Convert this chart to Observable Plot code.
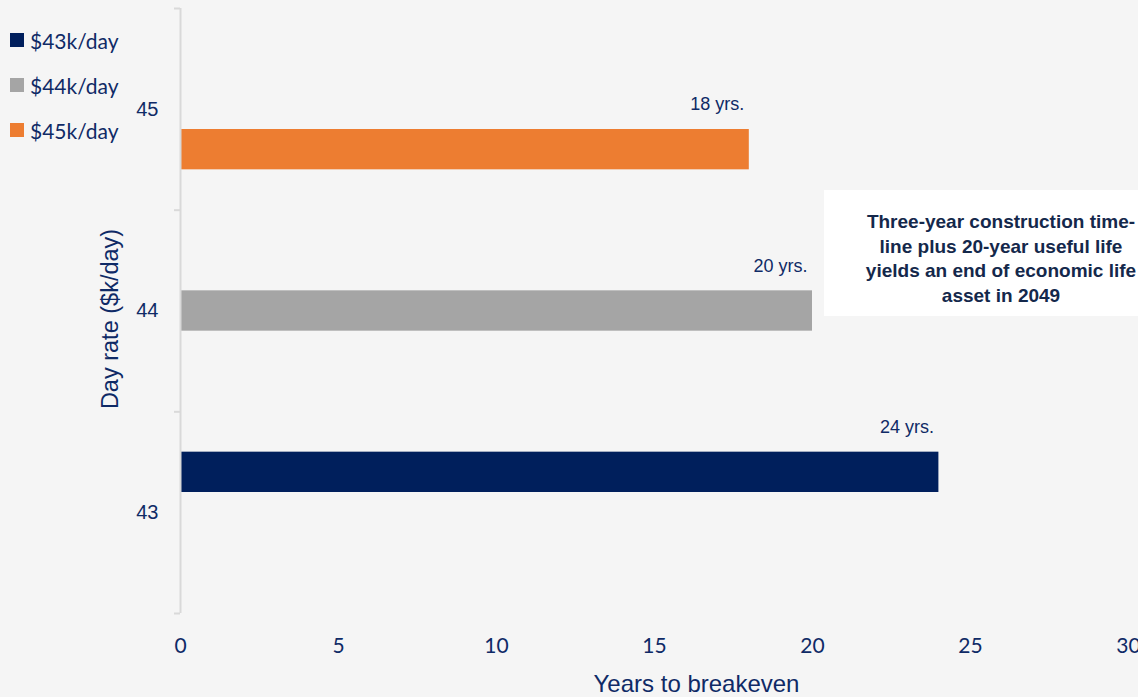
<!DOCTYPE html>
<html>
<head>
<meta charset="utf-8">
<script src="https://cdn.jsdelivr.net/npm/d3@7"></script>
<script src="https://cdn.jsdelivr.net/npm/@observablehq/plot@0.6"></script>
<style>
  html, body { margin: 0; padding: 0; background: #f5f5f5; overflow: hidden; }
  #wrap { position: relative; width: 1138px; height: 697px; overflow: hidden; }
  #legend { position: absolute; left: 10px; top: 26px; font-family: Lato, "Open Sans", sans-serif; font-size: 21px; color: #0f2a66; }
  .row { display: flex; align-items: center; height: 28px; margin-bottom: 17px; }
  .sw { width: 14px; height: 14px; margin-right: 6px; }
  #note { position: absolute; left: 824px; top: 190px; width: 354px; height: 126px; background: #ffffff;
          box-sizing: border-box; padding-top: 20px; text-align: center; white-space: nowrap;
          font-family: "Liberation Sans", Arial, sans-serif; font-weight: bold; font-size: 19px; line-height: 24.5px; color: #14284b; }
</style>
</head>
<body>
<div id="wrap">
  <div id="chart"></div>
  <div id="legend"></div>
  <div id="note"></div>
</div>
<script>
// ---- data ----
const rates = [43, 44, 45];
const years = [24, 20, 18];
const series = ["$43k/day", "$44k/day", "$45k/day"];
const valueLabels = ["24 yrs.", "20 yrs.", "18 yrs."];
const colors = ["#001f5c", "#a5a5a5", "#ed7d31"];
const xTicks = [0, 5, 10, 15, 20, 25, 30];
const yTicks = [43, 44, 45];
const yBounds = [42.5, 43.5, 44.5, 45.5];
const noteLines = ["Three-year construction time-", "line plus 20-year useful life", "yields an end of economic life", "asset in 2049"];

// rows (idx = position of the series within each cluster)
const data = rates.map((r, i) => ({rate: r, years: years[i], series: series[i], label: valueLabels[i], idx: i}));
const center = d => d.rate + (1 - d.idx) * 0.2;   // clustered slot offset
const half = 0.1;

const navy = "#0f2a66";
const axisGray = "#d9d9d9";
const arial = "Liberation Sans, Arial, sans-serif";

const chart = Plot.plot({
  width: 1138,
  height: 697,
  marginLeft: 180,
  marginRight: 10,
  marginTop: 8,
  marginBottom: 84,
  style: {background: "#f5f5f5", overflow: "visible"},
  x: {domain: [0, 30]},
  y: {domain: [42.5, 45.5]},
  color: {domain: series, range: colors},
  marks: [
    Plot.rectX(data, {x1: 0, x2: "years", y1: d => center(d) - half, y2: d => center(d) + half, fill: "series"}),
    Plot.text(data, {x: "years", y: d => center(d) + half, text: "label", textAnchor: "middle", dx: -32, dy: -25,
      fontSize: 18, fontFamily: arial, fill: navy}),
    Plot.ruleX([0], {stroke: axisGray, strokeWidth: 2}),
    Plot.axisY(yBounds, {tickSize: 6, tickFormat: () => "", stroke: axisGray, strokeWidth: 2, label: null}),
    Plot.axisY(yTicks, {tickSize: 0, tickPadding: 22, tickFormat: d => String(d), fontSize: 20, fontFamily: arial, fill: navy, label: null}),
    Plot.axisX(xTicks, {tickSize: 0, tickPadding: 25, tickFormat: d => String(d), fontSize: 21, fontFamily: "Lato, sans-serif", fill: navy, label: null}),
    Plot.text(["Day rate ($k/day)"], {frameAnchor: "left", textAnchor: "middle", rotate: -90, dx: -70, dy: 8, fontSize: 23.5,
      fontFamily: arial, fill: navy}),
    Plot.text(["Years to breakeven"], {frameAnchor: "bottom", textAnchor: "middle", dx: 42, dy: 78, fontSize: 24,
      fontFamily: arial, fill: navy})
  ]
});
document.getElementById("chart").append(chart);

// legend
const legend = document.getElementById("legend");
series.forEach((s, i) => {
  const row = document.createElement("div");
  row.className = "row";
  const sw = document.createElement("span");
  sw.className = "sw";
  sw.style.background = colors[i];
  const t = document.createElement("span");
  t.textContent = s;
  row.append(sw, t);
  legend.append(row);
});

// annotation
document.getElementById("note").innerHTML = noteLines.join("<br>");
</script>
</body>
</html>
